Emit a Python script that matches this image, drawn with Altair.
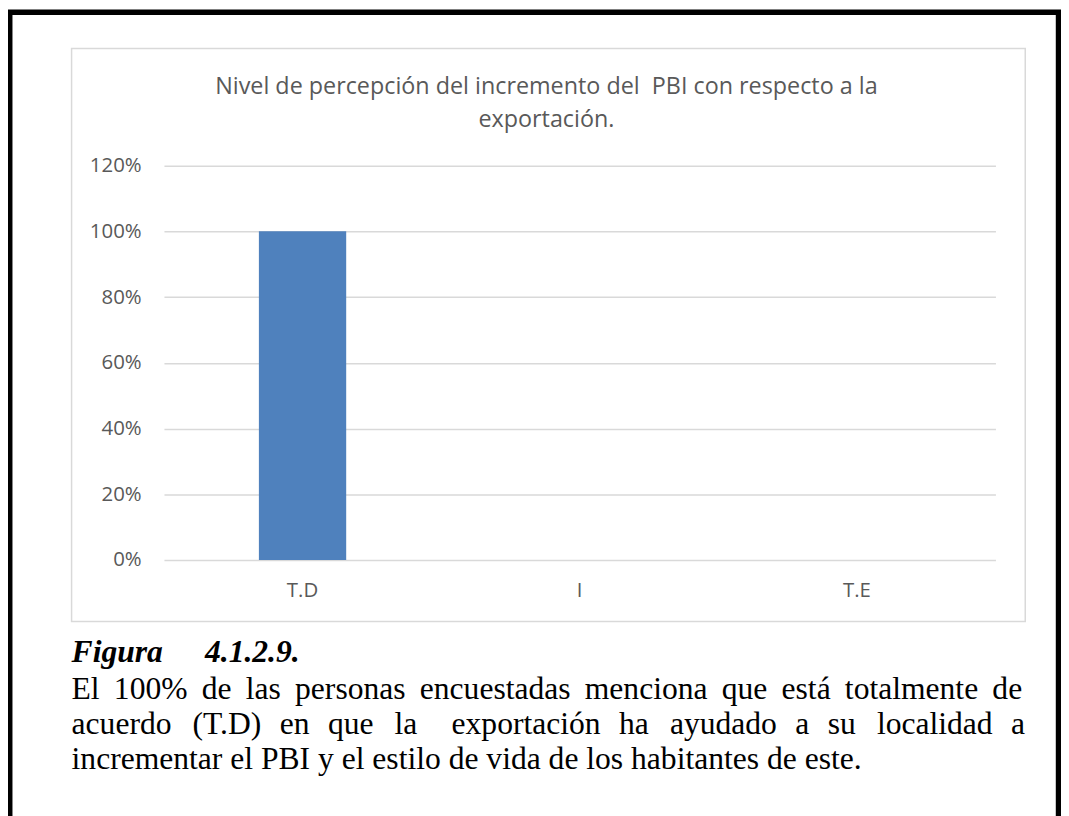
import altair as alt
import pandas as pd

categories = ["T.D", "I", "T.E"]
values = [1.0, 0.0, 0.0]
y_ticks = [0, 0.2, 0.4, 0.6, 0.8, 1.0, 1.2]
title_lines = [
    "Nivel de percepción del incremento del\u00a0 PBI con respecto a la",
    "exportación.",
]
caption_head = "Figura\u00a0\u00a0\u00a0\u00a0\u00a0\u200a4.1.2.9."
G1 = "\u00a0\u2009"
G2 = "\u00a0\u00a0\u200a"
G2b = "\u00a0\u00a0\u200a\u200a"
line1_words = ["El", "100%", "de", "las", "personas", "encuestadas", "menciona",
               "que", "está", "totalmente", "de"]
line2_words = ["acuerdo", "(T.D)", "en", "que", "la\u00a0\u00a0", "exportación", "ha",
               "ayudado", "a", "su", "localidad", "a"]
line3 = "incrementar el PBI y el estilo de vida de los habitantes de este."


def join_words(words, gaps):
    out = words[0]
    for w, g in zip(words[1:], gaps):
        out += g + w
    return out


line2_gaps = [G2b if i % 3 == 0 else G2 for i in range(len(line2_words) - 1)]
caption_lines = [G1.join(line1_words), join_words(line2_words, line2_gaps), line3]

W, H = 837, 397
GRAY = "#595959"
GRID = "#D9D9D9"

df = pd.DataFrame({"cat": categories, "val": values})
one = pd.DataFrame({"a": [0]})

border = alt.Chart(one).mark_rect(fillOpacity=0, stroke="black", strokeWidth=5.5).encode(
    x=alt.value(-155.25), x2=alt.value(900.5), y=alt.value(-154.5), y2=alt.value(700)
)
box = alt.Chart(one).mark_rect(fillOpacity=0, stroke=GRID, strokeWidth=1.5).encode(
    x=alt.value(-93), x2=alt.value(867), y=alt.value(-118), y2=alt.value(459)
)

bars = alt.Chart(df).mark_bar(color="#4F81BD").encode(
    x=alt.X(
        "cat:N", sort=categories,
        scale=alt.Scale(paddingInner=0.685, paddingOuter=0.3425),
        axis=alt.Axis(title=None, labelAngle=0, ticks=False, domain=False, grid=False,
                      labelFont="Open Sans", labelFontSize=20.5, labelColor=GRAY,
                      labelPadding=21),
    ),
    y=alt.Y(
        "val:Q", scale=alt.Scale(domain=[0, 1.2], nice=False),
        axis=alt.Axis(values=y_ticks, format=".0%", title=None, ticks=False, domain=False,
                      grid=True, gridColor=GRID, gridWidth=1.5,
                      labelFont="Open Sans", labelFontSize=20.5, labelColor=GRAY,
                      labelPadding=23),
    ),
)

layers = [border, box, bars]
for i, t in enumerate(title_lines):
    layers.append(
        alt.Chart(pd.DataFrame({"t": [t]})).mark_text(
            font="Open Sans", fontSize=23.5, color=GRAY, align="center", baseline="middle"
        ).encode(text="t:N", x=alt.value(385), y=alt.value(-79 + 33 * i))
    )

layers.append(
    alt.Chart(pd.DataFrame({"t": [caption_head]})).mark_text(
        font="Liberation Serif", fontSize=31.8, fontWeight="bold", fontStyle="italic",
        color="black", align="left", baseline="alphabetic"
    ).encode(text="t:N", x=alt.value(-93), y=alt.value(500))
)
for i, t in enumerate(caption_lines):
    layers.append(
        alt.Chart(pd.DataFrame({"t": [t]})).mark_text(
            font="Liberation Serif", fontSize=31.8, color="black", align="left",
            baseline="alphabetic"
        ).encode(text="t:N", x=alt.value(-93), y=alt.value(537 + 35 * i))
    )

chart = alt.layer(*layers).properties(
    width=W, height=H, autosize="none",
    padding={"left": 157, "top": 156, "right": 66, "bottom": 255},
    background="white",
).configure_view(strokeWidth=0)

chart.save("out.html", embed_options={"renderer": "svg", "actions": False})
